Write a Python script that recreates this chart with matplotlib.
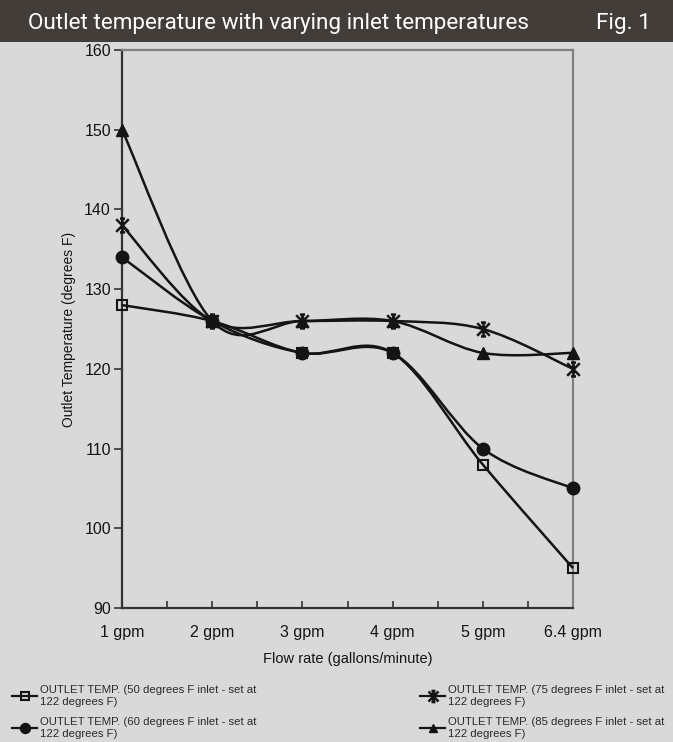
import numpy as np
import matplotlib.pyplot as plt
from matplotlib.path import Path
from matplotlib.patches import PathPatch, Rectangle
from matplotlib.lines import Line2D

flow_labels = ['1 gpm', '2 gpm', '3 gpm', '4 gpm', '5 gpm', '6.4 gpm']
temp_50 = [128, 126, 122, 122, 108, 95]
temp_60 = [134, 126, 122, 122, 110, 105]
temp_75 = [138, 126, 126, 126, 125, 120]
temp_85 = [150, 126, 126, 126, 122, 122]
legend_labels = [
    'OUTLET TEMP. (50 degrees F inlet - set at\n122 degrees F)',
    'OUTLET TEMP. (60 degrees F inlet - set at\n122 degrees F)',
    'OUTLET TEMP. (75 degrees F inlet - set at\n122 degrees F)',
    'OUTLET TEMP. (85 degrees F inlet - set at\n122 degrees F)',
]

plt.rcParams['font.family'] = ['Liberation Sans', 'DejaVu Sans']

bg = '#d9d9d9'
ink = '#141414'

# excel style star marker: x with a vertical bar
star = Path([(-1, -1), (1, 1), (-1, 1), (1, -1), (0, -1.1), (0, 1.1),
             (-0.4, 1.1), (0.4, 1.1), (-0.4, -1.1), (0.4, -1.1)],
            [Path.MOVETO, Path.LINETO] * 5)


def smooth_path(xs, ys):
    # bezier through the points, control points like excel smoothed lines
    pts = np.column_stack([xs, ys]).astype(float)
    n = len(pts)
    verts = [pts[0]]
    codes = [Path.MOVETO]
    for i in range(n - 1):
        p0 = pts[max(i - 1, 0)]
        p1 = pts[i]
        p2 = pts[i + 1]
        p3 = pts[min(i + 2, n - 1)]
        c1 = p1 + (p2 - p0) / 6.0
        c2 = p2 - (p3 - p1) / 6.0
        verts += [c1, c2, p2]
        codes += [Path.CURVE4] * 3
    return Path(verts, codes)


fig = plt.figure(figsize=(6.73, 7.42), dpi=100, facecolor=bg)
ax = fig.add_axes([122 / 673, 1 - 608 / 742, 451 / 673, 558 / 742])
ax.set_facecolor(bg)

# title bar
fig.patches.append(Rectangle((0, 1 - 42 / 742), 1, 42 / 742, transform=fig.transFigure,
                             facecolor='#433d3a', edgecolor='none', zorder=0))
fig.text(28 / 673, 1 - 23 / 742, 'Outlet temperature with varying inlet temperatures',
         color='white', fontsize=16.2, family='Roboto', va='center', ha='left')
fig.text(651 / 673, 1 - 23 / 742, 'Fig. 1', color='white', fontsize=16.2,
         family='Roboto', va='center', ha='right')

x = np.arange(len(flow_labels))
series = [(temp_50, dict(marker='s', ms=7, mfc='none', mew=1.5)),
          (temp_60, dict(marker='o', ms=9)),
          (temp_75, dict(marker=star, ms=10, mew=1.8)),
          (temp_85, dict(marker='^', ms=8))]

handles = []
for vals, mk in series:
    ax.add_patch(PathPatch(smooth_path(x, vals), facecolor='none', edgecolor=ink,
                           lw=1.8, zorder=3, clip_on=False))
    ax.plot(x, vals, ls='none', color=ink, mec=ink, zorder=4, clip_on=False, **mk)
    hk = dict(mk)
    hk['ms'] = mk['ms'] * 0.8
    handles.append(Line2D([], [], color=ink, lw=1.6, mec=ink, **hk))

ax.set_xlim(0, 5)
ax.set_ylim(90, 160)
ax.set_yticks(np.arange(90, 161, 10))
ax.set_xticks(x)
ax.set_xticklabels(flow_labels)
ax.set_xticks(np.arange(0.5, 5, 1.0), minor=True)
ax.tick_params(axis='both', which='both', labelsize=11.5, colors='#333333',
               labelcolor=ink)
ax.tick_params(axis='y', length=6, width=1.2, direction='out', pad=2)
ax.tick_params(axis='x', which='both', length=5, width=1.2, direction='in', pad=12)

for s in ['left', 'bottom']:
    ax.spines[s].set_color('#333333')
    ax.spines[s].set_linewidth(1.6)
for s in ['top', 'right']:
    ax.spines[s].set_color('#808080')
    ax.spines[s].set_linewidth(1.6)

ax.set_ylabel('Outlet Temperature (degrees F)', fontsize=10, color=ink, labelpad=6)
ax.set_xlabel('Flow rate (gallons/minute)', fontsize=10.5, color=ink, labelpad=9)

leg_kw = dict(frameon=False, fontsize=8.2, handlelength=2.2, labelspacing=0.85,
              handletextpad=0.3, labelcolor='#2a2a2a', borderaxespad=0,
              borderpad=0)
leg1 = fig.legend(handles[:2], legend_labels[:2], loc='upper left',
                  bbox_to_anchor=(12 / 673, 1 - 685 / 742), **leg_kw)
leg2 = fig.legend(handles[2:], legend_labels[2:], loc='upper left',
                  bbox_to_anchor=(420 / 673, 1 - 685 / 742), **leg_kw)
for leg in (leg1, leg2):
    for t in leg.get_texts():
        t.set_linespacing(1.25)

plt.savefig('out.png', dpi=100, facecolor=bg)
